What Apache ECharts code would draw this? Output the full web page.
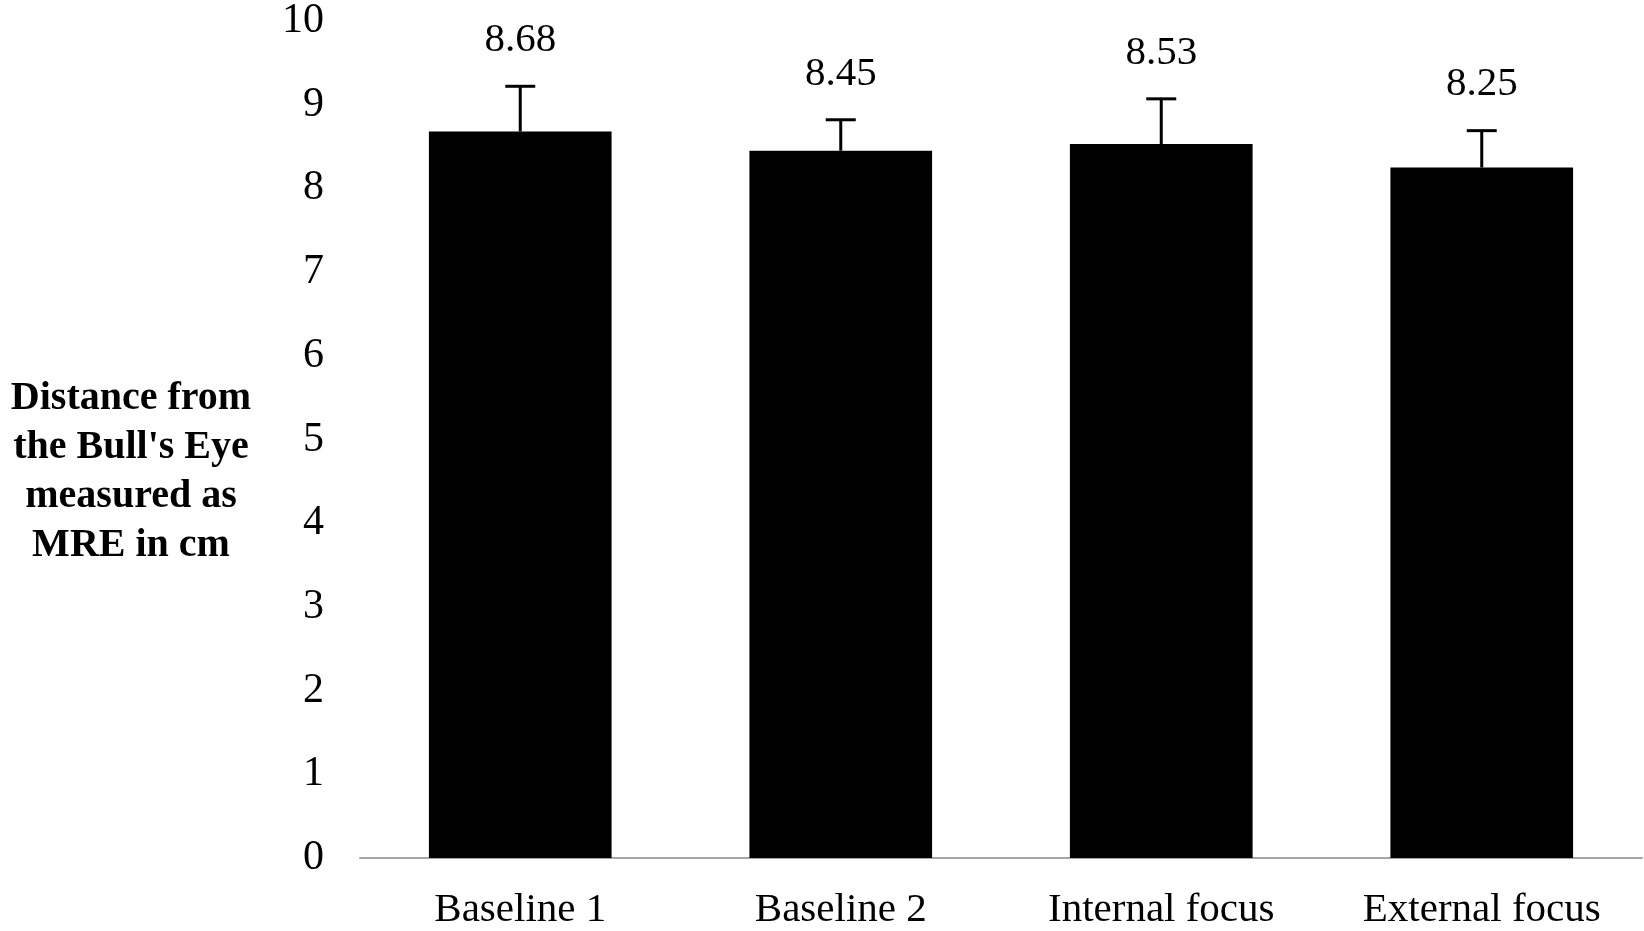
<!DOCTYPE html>
<html>
<head>
<meta charset="utf-8">
<script src="https://cdn.jsdelivr.net/npm/echarts@6/dist/echarts.min.js"></script>
<style>
html,body{margin:0;padding:0;background:#fff;}
#chart{width:1644px;height:931px;}
</style>
</head>
<body>
<div id="chart"></div>
<script>
const categories = ['Baseline 1', 'Baseline 2', 'Internal focus', 'External focus'];
const means = [8.68, 8.45, 8.53, 8.25];
const errors = [0.54, 0.37, 0.54, 0.44];
const yTicks = [0, 1, 2, 3, 4, 5, 6, 7, 8, 9, 10];
const yTitleLines = ['Distance from', "the Bull's Eye", 'measured as', 'MRE in cm'];

const FONT = '"Liberation Serif", "Times New Roman", serif';

const chart = echarts.init(document.getElementById('chart'), null, {renderer: 'canvas'});
chart.setOption({
  backgroundColor: '#fff',
  animation: false,
  grid: {left: 360, right: 2, top: 19, bottom: 66},
  xAxis: {
    type: 'category',
    data: categories,
    axisLine: {show: true, lineStyle: {color: '#a6a6a6', width: 2}},
    axisTick: {show: false},
    axisLabel: {color: '#000', fontFamily: FONT, fontSize: 41, margin: 32}
  },
  yAxis: {
    type: 'value',
    min: yTicks[0],
    max: yTicks[yTicks.length - 1],
    interval: 1,
    axisLine: {show: false},
    axisTick: {show: false},
    splitLine: {show: false},
    axisLabel: {color: '#000', fontFamily: FONT, fontSize: 42, margin: 36}
  },
  graphic: [{
    type: 'text',
    x: 131,
    y: 472,
    style: {
      text: yTitleLines.join('\n'),
      fontFamily: FONT,
      fontWeight: 'bold',
      fontSize: 40,
      lineHeight: 49,
      fill: '#000',
      align: 'center',
      verticalAlign: 'middle'
    }
  }],
  series: [{
    type: 'bar',
    data: means,
    barCategoryGap: '43%',
    itemStyle: {color: '#000'}
  }, {
    type: 'custom',
    data: means.map((m, i) => [i, m, m + errors[i]]),
    renderItem: function (params, api) {
      const x = api.value(0);
      const base = api.coord([x, api.value(1)]);
      const top = api.coord([x, api.value(2)]);
      const cap = 15;
      return {
        type: 'group',
        children: [{
          type: 'line',
          shape: {x1: base[0], y1: base[1], x2: top[0], y2: top[1]},
          style: {stroke: '#000', lineWidth: 3}
        }, {
          type: 'line',
          shape: {x1: top[0] - cap, y1: top[1], x2: top[0] + cap, y2: top[1]},
          style: {stroke: '#000', lineWidth: 3}
        }, {
          type: 'text',
          style: {
            text: api.value(1).toFixed(2),
            x: top[0], y: top[1] - 46,
            align: 'center', verticalAlign: 'middle',
            fontFamily: FONT, fontSize: 41, fill: '#000'
          }
        }]
      };
    },
    z: 3
  }]
});
</script>
</body>
</html>
